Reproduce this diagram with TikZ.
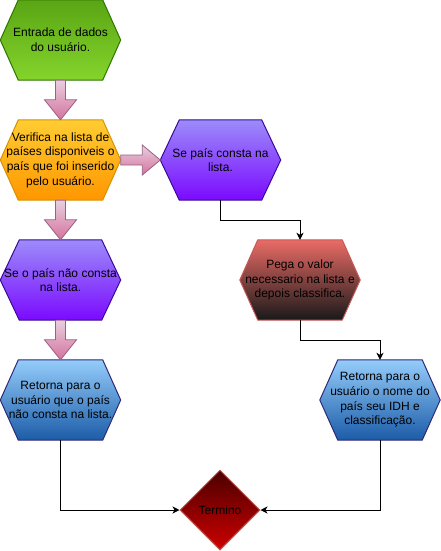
\documentclass[tikz,border=0pt]{standalone}
\usepackage{fontspec}
\setmainfont{Liberation Sans}
\usetikzlibrary{shapes.geometric,arrows.meta,calc,backgrounds}
\definecolor{pinktop}{HTML}{E8CFDF}
\definecolor{pinkbot}{HTML}{D5739D}
\definecolor{pinkline}{HTML}{996185}
\tikzset{
  box/.style={minimum width=120pt, minimum height=80pt, inner sep=0pt, align=center,
    font=\fontsize{12}{14.6}\selectfont, text=black},
  conn/.style={draw=black, line width=0.9pt, -{Stealth[length=7pt,width=7pt,inset=2pt]}},
  pinkarrow/.style={top color=pinktop, bottom color=pinkbot, draw=pinkline, line width=0.8pt},
}
\newcommand\hexa[5]{%
  \path[top color=#3, bottom color=#4, draw=#5, line width=1pt]
    (#1.west) -- ($(#1.north west)+(#2,0)$) -- ($(#1.north east)+(-#2,0)$) -- (#1.east)
    -- ($(#1.south east)+(-#2,0)$) -- ($(#1.south west)+(#2,0)$) -- cycle;}
\newcommand\blockdown[2]{%
  \path[pinkarrow] ($(#1.south)+(-5,0)$) -- ($(#2.north)+(-5,-20)$) -- ($(#2.north)+(-16,-20)$)
    -- (#2.north) -- ($(#2.north)+(16,-20)$) -- ($(#2.north)+(5,-20)$) -- ($(#1.south)+(5,0)$) -- cycle;}
\begin{document}
\begin{tikzpicture}[x=1pt,y=-1pt]
\useasboundingbox (0,0) rectangle (441,551);
\node[box] (g) at (60.5,40) {Entrada de dados\\do usuário.};
\node[box] (o) at (60.5,160) {Verifica na lista de\\países disponiveis o\\país que foi inserido\\pelo usuário.};
\node[box] (p1) at (220.5,160) {Se país consta na\\lista.};
\node[box] (p2) at (60.5,280) {Se o país não consta\\na lista.};
\node[box] (r) at (300,280) {Pega o valor\\necessario na lista e\\depois classifica.};
\node[box] (b1) at (60.5,400) {Retorna para o\\usuário que o país\\não consta na lista.};
\node[box] (b2) at (380,400) {Retorna para o\\usuário o nome do\\país seu IDH e\\classificação.};
\node[diamond, minimum width=80pt, minimum height=80pt, aspect=1, inner sep=0pt,
  top color={rgb,255:red,75;green,0;blue,0}, bottom color={rgb,255:red,205;green,0;blue,0},
  draw={rgb,255:red,190;green,85;blue,80}, line width=1pt,
  font=\fontsize{12}{14.6}\selectfont, text=black] (d) at (220,510) {Termino};
\begin{scope}[on background layer]
  \hexa{g}{18}{{rgb,255:red,90;green,165;blue,20}}{{rgb,255:red,132;green,212;blue,44}}{{rgb,255:red,45;green,118;blue,0}}
  \hexa{o}{18}{{rgb,255:red,255;green,205;blue,50}}{{rgb,255:red,255;green,150;blue,0}}{{rgb,255:red,215;green,145;blue,0}}
  \hexa{p1}{19}{{rgb,255:red,156;green,140;blue,250}}{{rgb,255:red,123;green,10;blue,255}}{{rgb,255:red,58;green,10;blue,150}}
  \hexa{p2}{19}{{rgb,255:red,156;green,140;blue,250}}{{rgb,255:red,123;green,10;blue,255}}{{rgb,255:red,58;green,10;blue,150}}
  \hexa{r}{18}{{rgb,255:red,234;green,107;blue,102}}{{rgb,255:red,25;green,25;blue,25}}{{rgb,255:red,195;green,90;blue,88}}
  \hexa{b1}{18}{{rgb,255:red,148;green,204;blue,250}}{{rgb,255:red,28;green,92;blue,168}}{{rgb,255:red,46;green,42;blue,120}}
  \hexa{b2}{18}{{rgb,255:red,148;green,204;blue,250}}{{rgb,255:red,28;green,92;blue,168}}{{rgb,255:red,46;green,42;blue,120}}
\end{scope}
\blockdown{g}{o}
\blockdown{o}{p2}
\blockdown{p2}{b1}
\path[pinkarrow] ($(o.east)+(0,-5)$) -- ($(p1.west)+(-18,-5)$) -- ($(p1.west)+(-18,-15)$) -- (p1.west)
  -- ($(p1.west)+(-18,15)$) -- ($(p1.west)+(-18,5)$) -- ($(o.east)+(0,5)$) -- cycle;
\draw[conn] (p1.south) -- ++(0,20) -| (r.north);
\draw[conn] (r.south) -- ++(0,20) -| (b2.north);
\draw[conn] (b1.south) |- (d.west);
\draw[conn] (b2.south) |- (d.east);
\end{tikzpicture}
\end{document}
